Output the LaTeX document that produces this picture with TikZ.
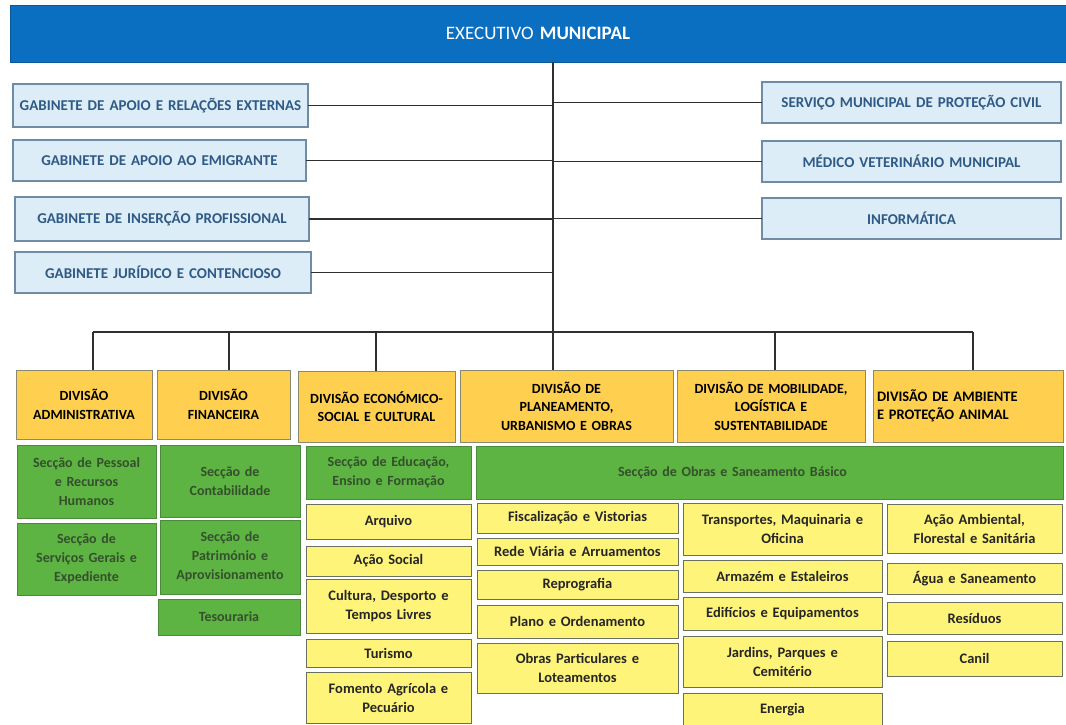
\documentclass[tikz,border=0pt]{standalone}
\usepackage{fontspec}
\setmainfont{Carlito}
\definecolor{hdrblue}{HTML}{0B6FC1}
\definecolor{lightblue}{HTML}{DDEDF8}
\definecolor{blueborder}{HTML}{6F8CA6}
\definecolor{bluetext}{HTML}{2F5A85}
\definecolor{divfill}{HTML}{FFD04F}
\definecolor{divborder}{HTML}{8A8A70}
\definecolor{grfill}{HTML}{5DB443}
\definecolor{grborder}{HTML}{4A8A3A}
\definecolor{grtext}{HTML}{34502C}
\definecolor{yfill}{HTML}{FFF47A}
\definecolor{yborder}{HTML}{6A7060}
\definecolor{linecol}{HTML}{303030}
\newcommand\ubox[7]{%
  \pgfmathsetmacro\bw{#5-#3}\pgfmathsetmacro\bh{#6-#4}%
  \pgfmathsetmacro\tw{#5-#3-8}%
  \pgfmathsetmacro\bcx{(#3+#5)/2}\pgfmathsetmacro\bcy{(#4+#6)/2}%
  \node[#1, minimum width=\bw pt, minimum height=\bh pt, text width=\tw pt] (#2) at (\bcx,\bcy) {#7};}
\begin{document}
\begin{tikzpicture}[x=1pt,y=-1pt,
  every node/.style={inner xsep=4pt, inner ysep=1pt, outer sep=0pt, align=center, font=\bfseries},
  hdrbox/.style={fill=hdrblue, draw=hdrblue!80!black, line width=0.8pt, text=white, font=\fontsize{19}{22}\selectfont},
  gabbox/.style={fill=lightblue, draw=blueborder, line width=1.3pt, text=bluetext, font=\bfseries\fontsize{15}{18}\selectfont},
  divbox/.style={fill=divfill, draw=divborder, line width=1pt, text=black, font=\bfseries\fontsize{14}{18.5}\selectfont},
  grbox/.style={fill=grfill, draw=grborder, line width=0.8pt, text=grtext, font=\bfseries\fontsize{14}{19}\selectfont},
  ybox/.style={fill=yfill, draw=yborder, line width=1pt, text=black!85, font=\bfseries\fontsize{14.5}{19}\selectfont},
  conn/.style={draw=linecol, line width=1.4pt}]
\useasboundingbox (0,0) rectangle (1066,725);
\fill[white] (0,0) rectangle (1066,725);

% header
\ubox{hdrbox}{hdr}{10}{5}{1066}{62}{{\mdseries EXECUTIVO} \textbf{MUNICIPAL}}

% left cabinets
\ubox{gabbox}{g1}{13}{84}{308}{127}{GABINETE DE APOIO E RELAÇÕES EXTERNAS}
\ubox{gabbox}{g2}{13}{140}{306}{181}{GABINETE DE APOIO AO EMIGRANTE}
\ubox{gabbox}{g3}{15}{197}{309}{241}{GABINETE DE INSERÇÃO PROFISSIONAL}
\ubox{gabbox}{g4}{15}{252}{311}{293}{GABINETE JURÍDICO E CONTENCIOSO}
% right services
\ubox{gabbox}{s1}{762}{82}{1061}{123}{SERVIÇO MUNICIPAL DE PROTEÇÃO CIVIL}
\ubox{gabbox}{s2}{762}{141}{1061}{182}{MÉDICO VETERINÁRIO MUNICIPAL}
\ubox{gabbox}{s3}{762}{198}{1061}{239}{INFORMÁTICA}

% divisions
\ubox{divbox}{d1}{16}{370}{152}{439}{DIVISÃO\\ADMINISTRATIVA}
\ubox{divbox}{d2}{157}{370}{290}{439}{DIVISÃO\\FINANCEIRA}
\ubox{divbox}{d3}{298}{371}{455}{442}{DIVISÃO ECONÓMICO-\\SOCIAL E CULTURAL}
\ubox{divbox}{d4}{460}{370}{673}{442}{DIVISÃO DE\\PLANEAMENTO,\\URBANISMO E OBRAS}
\ubox{divbox}{d5}{677}{370}{865}{442}{DIVISÃO DE MOBILIDADE,\\LOGÍSTICA E\\SUSTENTABILIDADE}
\ubox{divbox,align=left,text width=152pt,font=\bfseries\fontsize{14.5}{18.5}\selectfont}{d6}{873}{370}{1063}{442}{DIVISÃO DE AMBIENTE\\E PROTEÇÃO ANIMAL}

% green sections
\ubox{grbox}{p1}{17}{445}{156}{518}{Secção de Pessoal\\e Recursos\\Humanos}
\ubox{grbox}{p2}{17}{523}{156}{595}{Secção de\\Serviços Gerais e\\Expediente}
\ubox{grbox}{c1}{160}{445}{300}{517}{Secção de\\Contabilidade}
\ubox{grbox}{c2}{160}{520}{300}{594}{Secção de\\Património e\\Aprovisionamento}
\ubox{grbox}{c3}{158}{599}{300}{635}{Tesouraria}
\ubox{grbox}{e1}{306}{446}{471}{499}{Secção de Educação,\\Ensino e Formação}
\ubox{grbox}{o1}{476}{446}{1063}{499}{\hspace*{-74pt}Secção de Obras e Saneamento Básico}

% yellow units - column 3
\ubox{ybox}{y31}{306}{504}{471}{539}{Arquivo}
\ubox{ybox}{y32}{306}{546}{471}{576}{Ação Social}
\ubox{ybox}{y33}{306}{579}{471}{633}{Cultura, Desporto e\\Tempos Livres}
\ubox{ybox}{y34}{306}{639}{471}{667}{Turismo}
\ubox{ybox}{y35}{306}{672}{471}{723}{Fomento Agrícola e\\Pecuário}
% column 4
\ubox{ybox}{y41}{477}{503}{678}{533}{Fiscalização e Vistorias}
\ubox{ybox}{y42}{477}{538}{678}{565}{Rede Viária e Arruamentos}
\ubox{ybox}{y43}{477}{570}{678}{599}{Reprografia}
\ubox{ybox}{y44}{477}{605}{678}{638}{Plano e Ordenamento}
\ubox{ybox}{y45}{477}{643}{678}{693}{Obras Particulares e\\Loteamentos}
% column 5
\ubox{ybox}{y51}{683}{503}{882}{555}{Transportes, Maquinaria e\\Oficina}
\ubox{ybox}{y52}{683}{560}{882}{592}{Armazém e Estaleiros}
\ubox{ybox}{y53}{683}{597}{882}{630}{Edifícios e Equipamentos}
\ubox{ybox}{y54}{683}{636}{882}{687}{Jardins, Parques e\\Cemitério}
\ubox{ybox}{y55}{683}{693}{882}{727}{Energia}
% column 6
\ubox{ybox}{y61}{887}{504}{1062}{553}{Ação Ambiental,\\Florestal e Sanitária}
\ubox{ybox}{y62}{887}{563}{1062}{594}{Água e Saneamento}
\ubox{ybox}{y63}{887}{602}{1062}{634}{Resíduos}
\ubox{ybox}{y64}{887}{641}{1062}{676}{Canil}

% connectors
\coordinate (bus) at (553,332);
\coordinate (b1) at (93,332);
\coordinate (b2) at (229,332);
\coordinate (b3) at (376,332);
\coordinate (b5) at (775,332);
\coordinate (b6) at (973,332);
\draw[conn] (hdr.south -| bus) -- (bus);
\draw[conn] (b1) -- (b6);
\foreach \g in {g1,g2,g3,g4}{\draw[conn] (\g.east) -- (\g.east -| bus);}
\foreach \s in {s1,s2,s3}{\draw[conn] (\s.west) -- (\s.west -| bus);}
\draw[conn] (b1) -- (b1 |- d1.north);
\draw[conn] (b2) -- (b2 |- d2.north);
\draw[conn] (b3) -- (b3 |- d3.north);
\draw[conn] (bus) -- (bus |- d4.north);
\draw[conn] (b5) -- (b5 |- d5.north);
\draw[conn] (b6) -- (b6 |- d6.north);
\end{tikzpicture}
\end{document}
